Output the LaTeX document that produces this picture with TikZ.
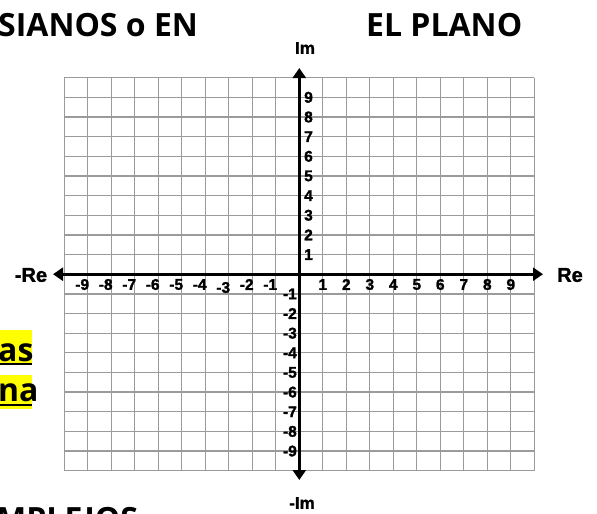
\documentclass[tikz,border=0pt]{standalone}
\usepackage{fontspec}
\usetikzlibrary{arrows.meta}
\newfontfamily\titlefont{Open Sans}
\newfontfamily\axfont{Liberation Sans Bold}[FakeBold=1.6]
\definecolor{gridgray}{RGB}{155,155,155}
\definecolor{hlyellow}{RGB}{255,255,0}
\tikzset{
  gridline/.style={draw=gridgray, line width=1.3pt},
  axisline/.style={draw=black, line width=3pt, arrows={Triangle[width=13pt,length=10pt]-Triangle[width=13pt,length=10pt]}},
  ticklab/.style={font=\axfont\fontsize{15.5}{15.5}\selectfont, inner sep=0pt, text=black},
  axlab/.style={font=\axfont\fontsize{20}{20}\selectfont, inner sep=0pt, text=black},
  imlab/.style={font=\axfont\fontsize{17}{17}\selectfont, inner sep=0pt, text=black},
  bigtext/.style={font=\titlefont\bfseries\fontsize{32}{36}\selectfont, inner sep=0pt, anchor=base west, text=black},
  hlbox/.style={fill=hlyellow, draw=none},
  uline/.style={draw=black, line width=2pt}
}
\begin{document}
\begin{tikzpicture}[x=1pt,y=-1pt]
\useasboundingbox (0,0) rectangle (597,514);
\clip (0,0) rectangle (597,514);
\fill[white] (0,0) rectangle (597,514);
% title
\node[bigtext] (t1) at (-2,36.5) {SIANOS o EN};
\node[bigtext] (t2) at (366,36.5) {EL PLANO};
% highlighted fragments
\fill[hlbox] (0,330) rectangle (32,365);
\fill[hlbox] (0,375) rectangle (32,409);
\node[bigtext] (h1) at (-2,361) {as};
\node[bigtext] (h2) at (-2,401) {na};
\draw[uline] (0,364) -- (32,364);
\draw[uline] (0,405) -- (32,405);
% bottom
\node[bigtext] (b1) at (-4,530) {MPLEJOS};
% grid
\foreach \i in {0,...,20}
  \draw[gridline] ({64.3+23.5*\i},77.7) -- ({64.3+23.5*\i},470.7);
\foreach \j in {0,...,20}
  \draw[gridline] (64.3,{77.7+19.65*\j}) -- (534.3,{77.7+19.65*\j});
% axes
\coordinate (reL) at (53,274.2);
\coordinate (reR) at (543,274.2);
\coordinate (imT) at (299.3,68);
\coordinate (imB) at (299.3,480);
\draw[axisline] (reL) -- (reR);
\draw[axisline] (imB) -- (imT);
% axis names
\node[axlab] (Re) at (570,275) {Re};
\node[axlab] (mRe) at (31,275) {-Re};
\node[imlab] (Im) at (305,48) {Im};
\node[imlab] (mIm) at (302,503) {-Im};
% tick labels
\foreach \k in {1,...,9} {
  \node[ticklab] (xp\k) at ({299.3+23.5*\k},284.5) {\k};
  \pgfmathsetmacro\yy{\k==3 ? 287.5 : 284.5}
  \node[ticklab, anchor=east] (xn\k) at ({299.3-23.5*\k+1.5},\yy) {-\k};
  \node[ticklab, anchor=west] (yp\k) at (304,{274.2-19.65*\k}) {\k};
  \node[ticklab, anchor=east] (yn\k) at (297,{274.2+19.65*\k}) {-\k};
}
\end{tikzpicture}
\end{document}
